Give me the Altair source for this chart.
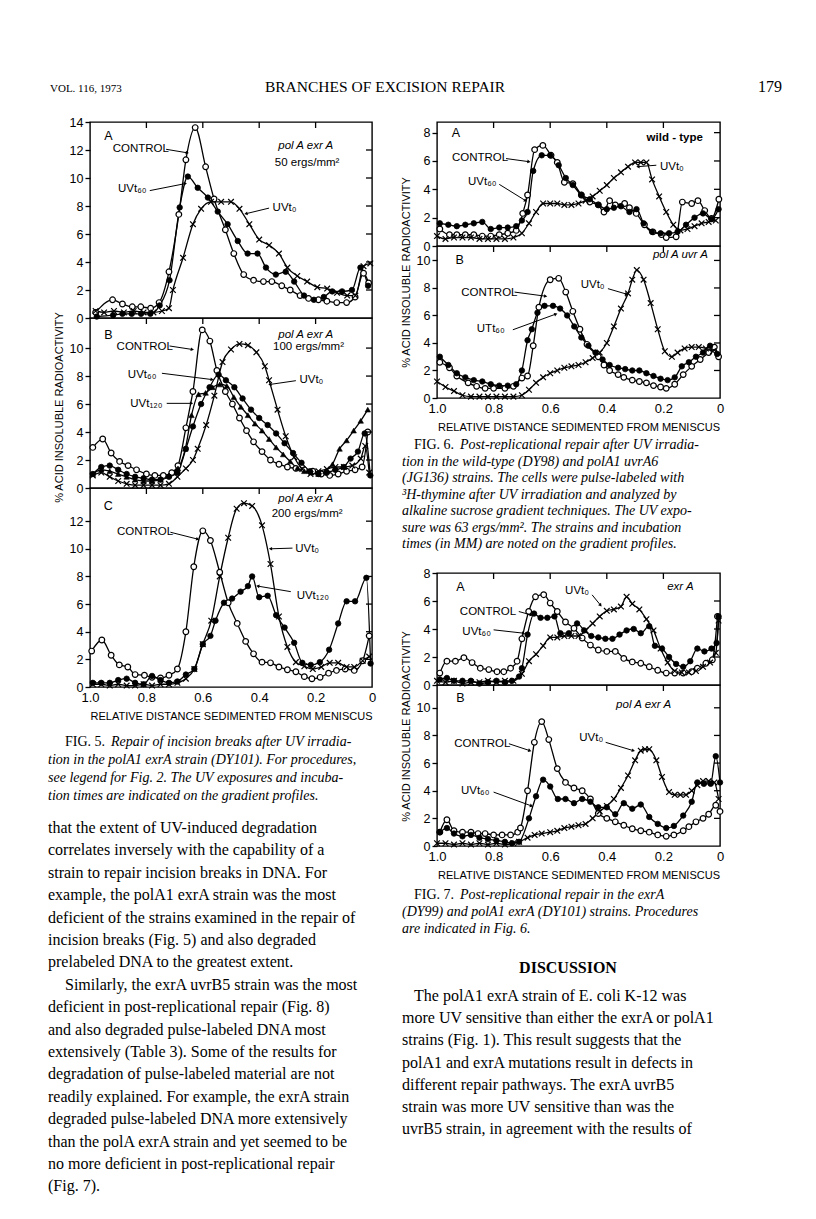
import math
import altair as alt
import pandas as pd

SANS = "Liberation Sans, DejaVu Sans, Arial, sans-serif"
SERIF = "Liberation Serif, DejaVu Serif, Times New Roman, serif"

# ---------------------------------------------------------------- data
# Fig. 5A  (pol A exrA, 50 ergs/mm2)
F5A_CTRL_X = [0.98, 0.92, 0.885, 0.85, 0.82, 0.785, 0.755, 0.72, 0.685, 0.66, 0.627, 0.59, 0.56, 0.52, 0.49,
              0.455, 0.42, 0.385, 0.355, 0.32, 0.29, 0.255, 0.225, 0.19, 0.16, 0.125, 0.09, 0.06, 0.03, 0.012]
F5A_CTRL_Y = [0.4, 1.3, 1.0, 0.8, 0.8, 0.7, 1.1, 3.3, 7.4, 11.3, 13.6, 10.8, 8.5, 6.3, 4.6,
              3.1, 2.7, 2.6, 2.6, 2.3, 2.0, 1.6, 1.4, 1.3, 1.2, 1.1, 1.1, 1.5, 3.2, 2.5]
F5A_T60_X = [0.976, 0.918, 0.885, 0.852, 0.819, 0.786, 0.753, 0.718, 0.682, 0.653, 0.618, 0.582, 0.547, 0.512, 0.476,
             0.441, 0.406, 0.376, 0.341, 0.306, 0.276, 0.241, 0.206, 0.171, 0.141, 0.106, 0.071, 0.041, 0.014]
F5A_T60_Y = [0.1, 0.2, 0.3, 0.3, 0.3, 0.3, 0.9, 2.7, 7.9, 10.1, 9.3, 8.6, 7.6, 6.7, 5.5,
             4.6, 4.6, 3.6, 3.1, 3.3, 2.6, 1.6, 1.3, 1.5, 1.9, 1.9, 2.0, 3.6, 2.3]
F5A_T0_X = [0.98, 0.95, 0.915, 0.88, 0.845, 0.81, 0.775, 0.745, 0.72, 0.706, 0.67, 0.635, 0.606, 0.571, 0.535, 0.5,
            0.47, 0.435, 0.4, 0.365, 0.33, 0.3, 0.265, 0.23, 0.194, 0.159, 0.124, 0.088, 0.059, 0.03, 0.006]
F5A_T0_Y = [0.5, 0.4, 0.5, 0.4, 0.5, 0.4, 0.4, 0.5, 0.7, 2.0, 4.3, 6.7, 7.8, 8.3, 8.3, 8.3,
            7.8, 6.7, 5.6, 5.2, 4.6, 3.6, 3.0, 2.6, 2.2, 2.1, 1.8, 1.6, 1.6, 3.7, 3.9]

# Fig. 5B  (100 ergs/mm2)
F5B_CTRL_X = [0.99, 0.955, 0.925, 0.895, 0.865, 0.835, 0.8, 0.77, 0.74, 0.71, 0.688, 0.66, 0.635, 0.602, 0.575,
              0.55, 0.52, 0.495, 0.47, 0.445, 0.42, 0.39, 0.36, 0.33, 0.3, 0.27, 0.24, 0.21, 0.18, 0.15,
              0.12, 0.09, 0.06, 0.035, 0.015]
F5B_CTRL_Y = [2.9, 3.5, 2.5, 1.9, 1.6, 1.3, 1.0, 0.9, 0.9, 1.1, 1.6, 4.3, 6.9, 11.3, 10.5,
              8.4, 6.9, 6.0, 5.0, 4.1, 3.3, 2.6, 2.0, 1.7, 1.5, 1.4, 1.3, 1.2, 1.0, 0.9,
              1.0, 1.2, 1.3, 1.5, 4.0]
F5B_T60_X = [0.99, 0.96, 0.93, 0.9, 0.87, 0.84, 0.81, 0.78, 0.75, 0.72, 0.69, 0.66, 0.635, 0.606, 0.576,
             0.544, 0.518, 0.488, 0.459, 0.429, 0.4, 0.37, 0.34, 0.31, 0.28, 0.25, 0.22, 0.19, 0.16, 0.13,
             0.1, 0.076, 0.05, 0.026, 0.006]
F5B_T60_Y = [1.0, 1.5, 1.6, 1.3, 1.0, 0.8, 0.7, 0.6, 0.6, 0.8, 1.1, 2.8, 4.4, 6.0, 7.2,
             8.1, 7.7, 7.2, 6.4, 5.6, 5.0, 4.5, 3.9, 3.2, 2.5, 1.8, 1.2, 1.0, 1.1, 1.3,
             1.5, 2.1, 2.6, 3.9, 0.9]
F5B_T120_X = [0.99, 0.96, 0.93, 0.9, 0.87, 0.84, 0.81, 0.78, 0.75, 0.72, 0.688, 0.662, 0.64, 0.615, 0.59,
              0.565, 0.54, 0.515, 0.49, 0.465, 0.44, 0.415, 0.39, 0.365, 0.34, 0.315, 0.29, 0.265, 0.24, 0.215,
              0.19, 0.165, 0.14, 0.115, 0.09, 0.065, 0.04, 0.015]
F5B_T120_Y = [1.0, 1.3, 1.2, 1.0, 0.8, 0.6, 0.5, 0.5, 0.6, 0.9, 1.4, 2.8, 5.2, 6.7, 6.8,
              7.2, 7.4, 7.3, 6.5, 5.8, 5.2, 4.6, 4.1, 3.5, 2.9, 2.4, 1.9, 1.4, 1.2, 1.1,
              1.0, 1.2, 1.7, 2.8, 3.4, 4.1, 4.8, 5.6]
F5B_T0_X = [0.99, 0.96, 0.93, 0.9, 0.87, 0.84, 0.81, 0.78, 0.75, 0.72, 0.69, 0.66, 0.635, 0.618, 0.588,
            0.559, 0.53, 0.5, 0.47, 0.44, 0.41, 0.38, 0.365, 0.335, 0.306, 0.276, 0.247, 0.218, 0.19, 0.16,
            0.13, 0.1, 0.07, 0.04, 0.024, 0.01]
F5B_T0_Y = [0.9, 1.1, 0.8, 0.5, 0.3, 0.2, 0.2, 0.2, 0.2, 0.3, 0.8, 1.4, 2.0, 2.8, 4.5,
            6.6, 9.0, 9.9, 10.3, 10.2, 9.7, 8.7, 7.7, 5.6, 3.7, 2.2, 1.35, 1.0, 1.2, 1.35,
            1.5, 1.5, 1.6, 2.1, 3.0, 1.1]

# Fig. 5C  (200 ergs/mm2)
F5C_CTRL_X = [0.994, 0.958, 0.925, 0.896, 0.866, 0.84, 0.807, 0.78, 0.75, 0.72, 0.69, 0.66, 0.632, 0.6, 0.573,
              0.54, 0.51, 0.478, 0.448, 0.42, 0.39, 0.36, 0.33, 0.3, 0.27, 0.24, 0.213, 0.184, 0.154, 0.126,
              0.095, 0.063, 0.033, 0.01]
F5C_CTRL_Y = [2.6, 3.4, 2.3, 1.6, 1.45, 0.9, 0.85, 0.7, 0.65, 0.85, 1.3, 4.0, 8.7, 11.3, 10.6,
              8.3, 6.1, 4.6, 3.3, 2.4, 1.8, 1.75, 1.45, 1.25, 1.1, 0.75, 0.6, 0.7, 1.0, 1.2,
              1.3, 1.2, 1.9, 3.7]
F5C_T120_X = [0.99, 0.96, 0.93, 0.9, 0.87, 0.84, 0.81, 0.78, 0.75, 0.72, 0.69, 0.66, 0.63, 0.6, 0.573,
              0.555, 0.525, 0.496, 0.466, 0.44, 0.425, 0.4, 0.37, 0.34, 0.31, 0.276, 0.247, 0.217, 0.185, 0.152,
              0.12, 0.09, 0.06, 0.02, 0.005]
F5C_T120_Y = [0.3, 0.3, 0.3, 0.5, 0.6, 0.3, 0.2, 0.8, 0.5, 0.3, 0.4, 0.9, 1.3, 3.1, 3.7,
              4.8, 6.1, 6.4, 6.9, 7.3, 8.0, 6.5, 6.6, 5.2, 4.3, 3.2, 1.75, 1.6, 1.8, 2.7,
              4.6, 6.2, 6.2, 7.9, 1.7]
F5C_T0_X = [0.99, 0.96, 0.93, 0.9, 0.87, 0.84, 0.81, 0.78, 0.75, 0.72, 0.69, 0.66, 0.63, 0.6, 0.57,
            0.54, 0.51, 0.48, 0.454, 0.425, 0.39, 0.36, 0.33, 0.3, 0.27, 0.24, 0.21, 0.18, 0.15, 0.12,
            0.09, 0.063, 0.033, 0.01]
F5C_T0_Y = [0.2, 0.2, 0.1, 0.2, 0.1, 0.1, 0.2, 0.1, 0.2, 0.2, 0.3, 0.6, 1.3, 3.1, 4.8,
            8.0, 10.8, 12.9, 13.3, 13.1, 11.7, 8.9, 5.1, 2.9, 1.8, 1.5, 1.3, 1.45, 1.75, 1.75,
            1.45, 1.45, 1.9, 2.2]

# Fig. 6A  (wild-type)
F6A_CTRL_X = [0.99, 0.956, 0.93, 0.9, 0.87, 0.84, 0.81, 0.78, 0.75, 0.72, 0.697, 0.68, 0.655, 0.626, 0.597,
              0.575, 0.55, 0.52, 0.49, 0.46, 0.43, 0.41, 0.39, 0.37, 0.337, 0.32, 0.296, 0.267, 0.237, 0.207,
              0.19, 0.155, 0.133, 0.1, 0.078, 0.054, 0.03, 0.004]
F6A_CTRL_Y = [1.2, 0.8, 0.8, 0.8, 0.8, 0.7, 0.7, 0.8, 0.9, 1.1, 2.3, 3.6, 6.8, 7.1, 6.4,
              5.9, 4.5, 4.4, 3.6, 3.1, 2.9, 2.4, 3.2, 2.9, 3.0, 2.7, 2.3, 1.5, 1.0, 0.8,
              0.6, 0.65, 3.1, 3.0, 3.2, 2.5, 1.95, 3.3]
F6A_T60_X = [0.99, 0.96, 0.93, 0.9, 0.87, 0.84, 0.81, 0.78, 0.75, 0.72, 0.70, 0.68, 0.66, 0.63, 0.6,
             0.57, 0.545, 0.52, 0.49, 0.46, 0.43, 0.40, 0.375, 0.35, 0.32, 0.295, 0.27, 0.24, 0.21, 0.18,
             0.15, 0.12, 0.09, 0.06, 0.03, 0.005]
F6A_T60_Y = [1.6, 1.5, 1.4, 1.5, 1.6, 1.7, 1.2, 1.3, 1.3, 1.4, 1.8, 2.4, 5.3, 6.4, 6.4,
             5.7, 4.8, 4.3, 3.6, 3.3, 2.9, 2.6, 2.7, 2.8, 2.4, 2.6, 1.6, 1.0, 0.9, 0.9,
             1.0, 1.5, 2.0, 2.3, 1.9, 2.6]
F6A_T0_X = [1.0, 0.97, 0.94, 0.91, 0.88, 0.85, 0.82, 0.79, 0.76, 0.73, 0.70, 0.675, 0.65, 0.625, 0.6,
            0.575, 0.55, 0.525, 0.5, 0.475, 0.45, 0.425, 0.4, 0.375, 0.35, 0.325, 0.3, 0.28, 0.26, 0.24,
            0.215, 0.19, 0.165, 0.14, 0.115, 0.09, 0.065, 0.04, 0.015]
F6A_T0_Y = [0.7, 0.5, 0.6, 0.6, 0.6, 0.5, 0.5, 0.5, 0.5, 0.6, 0.9, 1.6, 2.4, 3.0, 3.0,
            3.0, 2.9, 2.9, 3.0, 3.2, 3.5, 3.9, 4.3, 4.8, 5.2, 5.6, 5.9, 5.9, 5.9, 4.7,
            3.5, 2.4, 1.5, 1.1, 1.2, 1.4, 1.6, 1.7, 1.8]

# Fig. 6B  (pol A uvrA)
F6B_CTRL_X = [0.99, 0.956, 0.93, 0.89, 0.86, 0.83, 0.8, 0.76, 0.73, 0.7, 0.68, 0.66, 0.64, 0.6, 0.57,
              0.545, 0.52, 0.495, 0.47, 0.43, 0.41, 0.39, 0.36, 0.34, 0.31, 0.285, 0.26, 0.235, 0.21, 0.19,
              0.16, 0.13, 0.1, 0.07, 0.04, 0.02, 0.005]
F6B_CTRL_Y = [2.6, 2.2, 1.6, 1.1, 0.85, 0.7, 0.7, 0.7, 0.85, 1.45, 1.6, 3.8, 6.6, 8.6, 8.7,
              7.7, 6.3, 5.0, 3.9, 3.0, 2.4, 2.0, 1.7, 1.5, 1.3, 1.2, 1.1, 0.9, 0.8, 0.7,
              1.0, 1.7, 2.3, 2.8, 3.3, 3.7, 3.0]
F6B_T60_X = [0.99, 0.96, 0.93, 0.9, 0.87, 0.84, 0.81, 0.78, 0.75, 0.72, 0.70, 0.68, 0.665, 0.645, 0.62,
             0.59, 0.565, 0.54, 0.515, 0.49, 0.465, 0.44, 0.415, 0.39, 0.36, 0.335, 0.31, 0.285, 0.26, 0.235,
             0.21, 0.185, 0.16, 0.135, 0.11, 0.085, 0.06, 0.035, 0.01]
F6B_T60_Y = [3.0, 2.4, 1.8, 1.5, 1.3, 1.2, 1.0, 0.9, 0.9, 1.0, 2.0, 4.2, 5.0, 6.2, 6.7,
             6.7, 6.5, 6.0, 5.2, 4.4, 3.8, 3.3, 2.8, 2.4, 2.2, 2.1, 2.0, 2.0, 1.8, 1.6,
             1.4, 1.3, 1.5, 2.3, 2.6, 3.0, 3.3, 3.8, 3.2]
F6B_T0_X = [1.0, 0.97, 0.94, 0.91, 0.88, 0.85, 0.82, 0.79, 0.76, 0.73, 0.70, 0.675, 0.65, 0.625, 0.6,
            0.575, 0.55, 0.525, 0.5, 0.475, 0.45, 0.425, 0.4, 0.375, 0.35, 0.325, 0.31, 0.294, 0.27, 0.245,
            0.22, 0.195, 0.17, 0.15, 0.125, 0.1, 0.075, 0.05, 0.025]
F6B_T0_Y = [1.2, 0.8, 0.5, 0.2, 0.1, 0.1, 0.1, 0.1, 0.1, 0.1, 0.2, 0.6, 1.1, 1.5, 1.8,
            2.0, 2.2, 2.3, 2.4, 2.6, 2.9, 3.3, 4.0, 5.2, 6.5, 7.6, 8.6, 9.3, 8.6, 6.9,
            5.0, 3.4, 3.0, 3.3, 3.6, 3.7, 3.7, 3.6, 3.4]

# Fig. 7A  (exrA)
F7A_CTRL_X = [0.99, 0.965, 0.935, 0.905, 0.876, 0.847, 0.817, 0.788, 0.764, 0.74, 0.717, 0.7, 0.676, 0.652, 0.623,
              0.6, 0.575, 0.546, 0.516, 0.487, 0.458, 0.43, 0.4, 0.37, 0.34, 0.31, 0.28, 0.25, 0.22, 0.19,
              0.16, 0.13, 0.1, 0.08, 0.05, 0.027, 0.009]
F7A_CTRL_Y = [0.85, 1.7, 1.7, 1.95, 1.6, 1.2, 1.1, 0.95, 0.95, 1.2, 1.7, 3.3, 5.25, 6.3, 6.45,
              5.85, 5.25, 4.5, 4.05, 3.35, 2.85, 2.5, 2.4, 2.4, 1.9, 1.65, 1.55, 1.3, 1.05, 0.85,
              0.85, 0.85, 0.95, 1.2, 1.55, 1.8, 4.9]
F7A_T60_X = [0.99, 0.965, 0.94, 0.91, 0.88, 0.85, 0.82, 0.79, 0.76, 0.735, 0.71, 0.70, 0.68, 0.657, 0.634,
             0.61, 0.585, 0.564, 0.534, 0.505, 0.48, 0.455, 0.43, 0.405, 0.38, 0.355, 0.33, 0.305, 0.28, 0.25,
             0.23, 0.205, 0.18, 0.155, 0.13, 0.105, 0.08, 0.055, 0.03, 0.012, 0.005]
F7A_T60_Y = [0.4, 0.5, 0.3, 0.3, 0.3, 0.1, 0.2, 0.3, 0.2, 0.3, 0.6, 1.2, 3.6, 5.1, 4.8,
             4.8, 4.9, 3.7, 3.7, 4.4, 3.9, 3.5, 3.4, 3.3, 3.3, 3.6, 3.9, 4.0, 3.7, 4.2,
             2.8, 2.6, 2.0, 1.5, 1.3, 1.7, 2.6, 2.4, 2.6, 3.0, 4.9]
F7A_T0_X = [1.0, 0.97, 0.94, 0.91, 0.88, 0.85, 0.82, 0.79, 0.76, 0.73, 0.70, 0.675, 0.65, 0.625, 0.6,
            0.575, 0.55, 0.525, 0.5, 0.475, 0.45, 0.425, 0.4, 0.375, 0.35, 0.33, 0.31, 0.285, 0.26, 0.235,
            0.21, 0.185, 0.16, 0.135, 0.11, 0.085, 0.06, 0.035, 0.015, 0.005]
F7A_T0_Y = [0.3, 0.2, 0.3, 0.1, 0.2, 0.2, 0.3, 0.2, 0.3, 0.3, 0.8, 1.7, 2.2, 2.8, 3.4,
            3.4, 3.5, 3.5, 3.5, 3.9, 4.4, 4.9, 5.3, 5.4, 5.6, 6.3, 5.8, 5.4, 4.7, 3.9,
            2.6, 1.6, 1.0, 0.9, 0.9, 1.0, 1.3, 1.6, 2.3, 4.6]

# Fig. 7B  (pol A exrA)
F7B_CTRL_X = [0.99, 0.965, 0.94, 0.91, 0.88, 0.855, 0.83, 0.8, 0.77, 0.74, 0.715, 0.705, 0.68, 0.656, 0.63,
              0.605, 0.575, 0.546, 0.516, 0.487, 0.458, 0.43, 0.4, 0.37, 0.34, 0.31, 0.28, 0.25, 0.22, 0.19,
              0.163, 0.13, 0.11, 0.085, 0.06, 0.04, 0.015, 0.0]
F7B_CTRL_Y = [1.0, 1.9, 1.1, 1.0, 1.0, 0.9, 0.9, 0.8, 0.8, 0.8, 1.0, 1.3, 4.0, 7.5, 9.0,
              7.7, 5.6, 4.6, 4.2, 4.0, 3.4, 2.35, 2.0, 1.75, 1.5, 1.25, 1.1, 1.0, 0.8, 0.7,
              0.8, 1.1, 1.4, 1.75, 2.0, 2.3, 2.95, 2.5]
F7B_T60_X = [0.99, 0.965, 0.94, 0.91, 0.88, 0.85, 0.82, 0.79, 0.76, 0.735, 0.71, 0.675, 0.65, 0.625, 0.6,
             0.573, 0.546, 0.516, 0.487, 0.458, 0.43, 0.4, 0.37, 0.34, 0.31, 0.28, 0.25, 0.22, 0.19, 0.163,
             0.13, 0.1, 0.08, 0.057, 0.033, 0.015, 0.0]
F7B_T60_Y = [1.0, 1.3, 0.9, 0.7, 0.8, 0.6, 0.5, 0.4, 0.3, 0.2, 0.3, 2.0, 3.6, 4.8, 4.3,
             3.4, 3.4, 3.1, 3.4, 3.2, 2.8, 2.8, 2.3, 3.1, 2.7, 3.0, 2.1, 1.6, 1.3, 1.45,
             2.2, 3.2, 4.6, 4.5, 4.5, 6.5, 4.6]
F7B_T0_X = [1.0, 0.97, 0.94, 0.91, 0.88, 0.85, 0.82, 0.79, 0.76, 0.73, 0.71, 0.68, 0.655, 0.63, 0.6,
            0.575, 0.55, 0.525, 0.5, 0.475, 0.45, 0.425, 0.4, 0.375, 0.35, 0.325, 0.3, 0.28, 0.265, 0.25,
            0.225, 0.205, 0.18, 0.16, 0.14, 0.12, 0.1, 0.08, 0.06, 0.04, 0.02, 0.005]
F7B_T0_Y = [0.2, 0.2, 0.1, 0.2, 0.1, 0.2, 0.1, 0.2, 0.1, 0.2, 0.3, 0.6, 0.8, 0.9, 1.0,
            1.1, 1.3, 1.4, 1.5, 1.6, 2.0, 2.5, 2.9, 3.4, 4.2, 5.1, 6.2, 6.9, 7.0, 7.0,
            6.2, 5.0, 3.9, 3.7, 3.7, 3.7, 4.0, 4.4, 4.7, 4.7, 4.6, 3.4]

X_TICKS = [1.0, 0.8, 0.6, 0.4, 0.2, 0.0]
Y_TICKS_14 = [0, 2, 4, 6, 8, 10, 12, 14]
Y_TICKS_12 = [0, 2, 4, 6, 8, 10, 12]
Y_TICKS_10 = [0, 2, 4, 6, 8, 10]
Y_TICKS_8 = [0, 2, 4, 6, 8]

# ---------------------------------------------------------------- page text
HEADER_LEFT = "VOL. 116, 1973"
HEADER_MID = "BRANCHES OF EXCISION REPAIR"
HEADER_RIGHT = "179"
X_TITLE = "RELATIVE DISTANCE SEDIMENTED FROM MENISCUS"
Y_TITLE = "% ACID INSOLUBLE RADIOACTIVITY"

CAP5_LEAD = "FIG. 5."
CAP5 = ["Repair of incision breaks after UV irradia-",
        "tion in the polA1 exrA strain (DY101). For procedures,",
        "see legend for Fig. 2. The UV exposures and incuba-",
        "tion times are indicated on the gradient profiles."]
BODY_LEFT = ["that the extent of UV-induced degradation",
             "correlates inversely with the capability of a",
             "strain to repair incision breaks in DNA. For",
             "example, the polA1 exrA strain was the most",
             "deficient of the strains examined in the repair of",
             "incision breaks (Fig. 5) and also degraded",
             "prelabeled DNA to the greatest extent.",
             "Similarly, the exrA uvrB5 strain was the most",
             "deficient in post-replicational repair (Fig. 8)",
             "and also degraded pulse-labeled DNA most",
             "extensively (Table 3). Some of the results for",
             "degradation of pulse-labeled material are not",
             "readily explained. For example, the exrA strain",
             "degraded pulse-labeled DNA more extensively",
             "than the polA exrA strain and yet seemed to be",
             "no more deficient in post-replicational repair",
             "(Fig. 7)."]
CAP6_LEAD = "FIG. 6."
CAP6 = ["Post-replicational repair after UV irradia-",
        "tion in the wild-type (DY98) and polA1 uvrA6",
        "(JG136) strains. The cells were pulse-labeled with",
        "³H-thymine after UV irradiation and analyzed by",
        "alkaline sucrose gradient techniques. The UV expo-",
        "sure was 63 ergs/mm². The strains and incubation",
        "times (in MM) are noted on the gradient profiles."]
CAP7_LEAD = "FIG. 7."
CAP7 = ["Post-replicational repair in the exrA",
        "(DY99) and polA1 exrA (DY101) strains. Procedures",
        "are indicated in Fig. 6."]
DISC_HEAD = "DISCUSSION"
DISC = ["The polA1 exrA strain of E. coli K-12 was",
        "more UV sensitive than either the exrA or polA1",
        "strains (Fig. 1). This result suggests that the",
        "polA1 and exrA mutations result in defects in",
        "different repair pathways. The exrA uvrB5",
        "strain was more UV sensitive than was the",
        "uvrB5 strain, in agreement with the results of"]

# ---------------------------------------------------------------- helpers
MARKER = {
    "open": dict(shape="circle", filled=True, fill="white", stroke="black", strokeWidth=1.2, size=32, opacity=1),
    "filled": dict(shape="circle", filled=True, fill="black", stroke="black", strokeWidth=0.8, size=30, opacity=1),
    "cross": dict(shape="M-1,-1L1,1M-1,1L1,-1", filled=False, stroke="black", strokeWidth=1.2, size=32, opacity=1),
    "tri": dict(shape="triangle-up", filled=True, fill="black", stroke="black", strokeWidth=0.6, size=30, opacity=1),
}
ANN = {
    "lab": dict(font=SANS, fontSize=11.5),
    "let": dict(font=SANS, fontSize=12.5),
    "it": dict(font=SANS, fontSize=11.5, fontStyle="italic"),
    "bold": dict(font=SANS, fontSize=11.5, fontWeight="bold"),
}
PANEL_VIEW = alt.ViewBackground(stroke="black", strokeWidth=1.4)


def panel(curves, ymax, yvals, w, h, texts, arrows, bottom=False, ytitle=None, title_y=None):
    xsc = alt.Scale(domain=[0, 1], reverse=True, nice=False, zero=False)
    ysc = alt.Scale(domain=[0, ymax], nice=False, zero=False)
    if bottom:
        xax = alt.Axis(values=X_TICKS,
                       labelExpr="datum.value == 0 ? '0' : format(datum.value, '.1f')",
                       title=X_TITLE, grid=False, domain=False, ticks=False, labelPadding=4,
                       labelFlush=False, labelFontSize=13, titleFontSize=11, titlePadding=6,
                       titleFontWeight="normal")
    else:
        xax = None
    ykw = dict(values=yvals, format="d", grid=False, domain=False, tickSize=5, tickWidth=1.3,
               labelPadding=2, labelFontSize=12.5)
    if ytitle:
        ykw.update(title=ytitle, titleFontSize=11, titleFontWeight="normal", titlePadding=5)
        if title_y is not None:
            ykw["titleY"] = title_y
    else:
        ykw["title"] = None
    yax = alt.Axis(**ykw)
    X = alt.X("x:Q", scale=xsc, axis=xax)
    Y = alt.Y("y:Q", scale=ysc, axis=yax)

    layers = []
    for xs, ys, kind in curves:
        df = pd.DataFrame({"x": xs, "y": ys})
        layers.append(alt.Chart(df).mark_line(color="black", strokeWidth=1.3, interpolate="monotone")
                      .encode(x=X, y=Y))
    for xs, ys, kind in curves:
        df = pd.DataFrame({"x": xs, "y": ys})
        layers.append(alt.Chart(df).mark_point(**MARKER[kind]).encode(x=X, y=Y))

    # inward ticks on top and right border
    tdf = pd.DataFrame({"x": [0.2, 0.4, 0.6, 0.8]})
    layers.append(alt.Chart(tdf).mark_rule(color="black", strokeWidth=1.3)
                  .encode(x=X, y=alt.value(0), y2=alt.value(6)))
    rdf = pd.DataFrame({"y": [v for v in yvals if 0 < v < ymax - 0.4]})
    layers.append(alt.Chart(rdf).mark_rule(color="black", strokeWidth=1.3)
                  .encode(y=Y, x=alt.value(w - 6), x2=alt.value(w)))

    # leader arrows
    if arrows:
        adf = pd.DataFrame(arrows, columns=["x", "y", "x2", "y2"])
        layers.append(alt.Chart(adf).mark_rule(color="black", strokeWidth=1)
                      .encode(x=X, y=Y, x2="x2:Q", y2="y2:Q"))
        angs = []
        for x1, y1, x2, y2 in arrows:
            dxp = -(x2 - x1) * w
            dyp = -(y2 - y1) * h / ymax
            angs.append((math.degrees(math.atan2(dxp, -dyp)) + 360) % 360)
        hdf = pd.DataFrame({"x": [a[2] for a in arrows], "y": [a[3] for a in arrows], "ang": angs})
        layers.append(alt.Chart(hdf).mark_point(shape="triangle-up", filled=True, color="black",
                                                size=14, opacity=1)
                      .encode(x=X, y=Y, angle=alt.Angle("ang:Q", scale=None)))

    # labels
    for style in ANN:
        rows = [t for t in texts if t[3] == style]
        if not rows:
            continue
        df = pd.DataFrame({"t": [r[0] for r in rows], "x": [r[1] for r in rows], "y": [r[2] for r in rows]})
        layers.append(alt.Chart(df).mark_text(color="black", align="center", baseline="middle", **ANN[style])
                      .encode(x=X, y=Y, text="t:N"))
    return alt.layer(*layers).properties(width=w, height=h, view=PANEL_VIEW)


def text_chart(w, h, blocks):
    layers = []
    for rows, style in blocks:
        df = pd.DataFrame({"px": [r[0] for r in rows], "py": [r[1] for r in rows], "t": [r[2] for r in rows]})
        layers.append(alt.Chart(df).mark_text(color="black", baseline="alphabetic", **style)
                      .encode(x=alt.X("px:Q", scale=None, axis=None),
                              y=alt.Y("py:Q", scale=None, axis=None),
                              text="t:N"))
    return alt.layer(*layers).properties(width=w, height=h)


def caption_blocks(lead, lines, x0, y0, step, indent, lead_w, size):
    roman = [(x0 + indent, y0, lead)]
    ital = [(x0 + indent + lead_w, y0, lines[0])]
    for i, s in enumerate(lines[1:], start=1):
        ital.append((x0, y0 + i * step, s))
    return [(roman, dict(font=SERIF, fontSize=size, align="left")),
            (ital, dict(font=SERIF, fontSize=size, fontStyle="italic", align="left"))]


# ---------------------------------------------------------------- panels
WL, WR = 282, 283

f5a = panel([(F5A_CTRL_X, F5A_CTRL_Y, "open"), (F5A_T60_X, F5A_T60_Y, "filled"), (F5A_T0_X, F5A_T0_Y, "cross")],
            14.0, Y_TICKS_14, WL, 196,
            [("A", 0.935, 13.0, "let"), ("CONTROL", 0.82, 12.05, "lab"), ("UVt₆₀", 0.85, 9.2, "lab"),
             ("UVt₀", 0.31, 7.85, "lab"), ("pol A  exr A", 0.235, 12.3, "it"), ("50 ergs/mm²", 0.23, 11.1, "lab")],
            [(0.73, 12.05, 0.655, 11.8), (0.788, 9.1, 0.662, 9.6), (0.365, 7.85, 0.447, 7.45)])

f5b = panel([(F5B_CTRL_X, F5B_CTRL_Y, "open"), (F5B_T60_X, F5B_T60_Y, "filled"),
             (F5B_T120_X, F5B_T120_Y, "tri"), (F5B_T0_X, F5B_T0_Y, "cross")],
            12.15, Y_TICKS_10, WL, 170,
            [("B", 0.935, 10.9, "let"), ("CONTROL", 0.806, 10.1, "lab"), ("UVt₆₀", 0.815, 8.1, "lab"),
             ("UVt₁₂₀", 0.80, 6.0, "lab"), ("UVt₀", 0.215, 7.7, "lab"),
             ("pol A  exr A", 0.235, 10.9, "it"), ("100 ergs/mm²", 0.225, 10.1, "lab")],
            [(0.718, 10.15, 0.637, 9.9), (0.745, 8.2, 0.567, 7.75), (0.728, 6.05, 0.64, 6.05),
             (0.27, 7.67, 0.362, 7.4)],
            ytitle=Y_TITLE, title_y=89)

f5c = panel([(F5C_CTRL_X, F5C_CTRL_Y, "open"), (F5C_T120_X, F5C_T120_Y, "filled"), (F5C_T0_X, F5C_T0_Y, "cross")],
            14.4, Y_TICKS_12, WL, 199,
            [("C", 0.935, 13.1, "let"), ("CONTROL", 0.805, 11.25, "lab"), ("UVt₀", 0.23, 10.0, "lab"),
             ("UVt₁₂₀", 0.21, 6.6, "lab"), ("pol A  exr A", 0.235, 13.6, "it"), ("200 ergs/mm²", 0.23, 12.5, "lab")],
            [(0.715, 11.2, 0.618, 10.7), (0.282, 10.05, 0.36, 10.0), (0.288, 6.9, 0.405, 7.3)],
            bottom=True)

f6a = panel([(F6A_CTRL_X, F6A_CTRL_Y, "open"), (F6A_T60_X, F6A_T60_Y, "filled"), (F6A_T0_X, F6A_T0_Y, "cross")],
            8.75, Y_TICKS_8, WR, 124,
            [("A", 0.933, 8.0, "let"), ("wild - type", 0.16, 7.6, "bold"), ("CONTROL", 0.848, 6.2, "lab"),
             ("UVt₆₀", 0.84, 4.5, "lab"), ("UVt₀", 0.17, 5.6, "lab")],
            [(0.756, 6.17, 0.675, 5.95), (0.78, 4.35, 0.687, 3.2), (0.225, 5.7, 0.29, 5.6)])

f6b = panel([(F6B_CTRL_X, F6B_CTRL_Y, "open"), (F6B_T60_X, F6B_T60_Y, "filled"), (F6B_T0_X, F6B_T0_Y, "cross")],
            11.05, Y_TICKS_10, WR, 152,
            [("B", 0.92, 10.05, "let"), ("pol A uvr A", 0.14, 10.4, "it"), ("CONTROL", 0.815, 7.6, "lab"),
             ("UTt₆₀", 0.81, 5.0, "lab"), ("UVt₀", 0.45, 8.2, "lab")],
            [(0.726, 7.7, 0.616, 7.4), (0.732, 4.96, 0.58, 6.1), (0.396, 7.95, 0.33, 7.55)],
            bottom=True, ytitle=Y_TITLE, title_y=26)

f7a = panel([(F7A_CTRL_X, F7A_CTRL_Y, "open"), (F7A_T60_X, F7A_T60_Y, "filled"), (F7A_T0_X, F7A_T0_Y, "cross")],
            8.0, Y_TICKS_8, WR, 112,
            [("A", 0.917, 7.0, "let"), ("exr A", 0.14, 7.0, "it"), ("UVt₀", 0.505, 6.7, "lab"),
             ("CONTROL", 0.82, 5.25, "lab"), ("UVt₆₀", 0.86, 3.8, "lab")],
            [(0.452, 6.44, 0.422, 5.7), (0.711, 5.25, 0.667, 5.0), (0.8, 3.94, 0.694, 3.7)])

f7b = panel([(F7B_CTRL_X, F7B_CTRL_Y, "open"), (F7B_T60_X, F7B_T60_Y, "filled"), (F7B_T0_X, F7B_T0_Y, "cross")],
            11.65, Y_TICKS_10, WR, 161,
            [("B", 0.917, 10.7, "let"), ("pol A  exr A", 0.27, 10.2, "it"), ("CONTROL", 0.84, 7.4, "lab"),
             ("UVt₆₀", 0.865, 4.0, "lab"), ("UVt₀", 0.455, 7.8, "lab")],
            [(0.746, 7.4, 0.672, 6.9), (0.8, 3.9, 0.666, 2.9), (0.404, 7.5, 0.306, 6.9)],
            bottom=True, ytitle=Y_TITLE, title_y=41)

# ---------------------------------------------------------------- text blocks
BODY_STYLE = dict(font=SERIF, fontSize=16, align="left")

left_blocks = caption_blocks(CAP5_LEAD, CAP5, -42, 59, 18, 17, 46, 14)
body_rows = []
for i, s in enumerate(BODY_LEFT):
    body_rows.append((-42 + (17 if i == 7 else 0), 146 + i * 22.4, s))
left_blocks.append((body_rows, BODY_STYLE))
text5 = text_chart(WL, 525, left_blocks)

text6 = text_chart(WR, 175, caption_blocks(CAP6_LEAD, CAP6, -35, 51, 16.5, 12, 46, 14))

r_blocks = caption_blocks(CAP7_LEAD, CAP7, -35, 53, 17, 12, 46, 14)
r_blocks.append(([(131, 127, DISC_HEAD)], dict(font=SERIF, fontSize=16, fontWeight="bold", align="center")))
disc_rows = [(-35 + (12 if i == 0 else 0), 155 + i * 22.2, s) for i, s in enumerate(DISC)]
r_blocks.append((disc_rows, BODY_STYLE))
text7 = text_chart(WR, 360, r_blocks)

header = text_chart(600, 107, [
    ([(-40, 84, HEADER_LEFT)], dict(font=SERIF, fontSize=11, align="left")),
    ([(295, 84, HEADER_MID)], dict(font=SERIF, fontSize=15.5, align="center")),
    ([(692, 84, HEADER_RIGHT)], dict(font=SERIF, fontSize=16, align="right")),
])

left_col = alt.vconcat(f5a, f5b, f5c, text5, spacing=0, bounds="flush")
right_col = alt.vconcat(f6a, f6b, text6, f7a, f7b, text7, spacing=0, bounds="flush")
body = alt.hconcat(left_col, right_col, spacing=22)

chart = (alt.vconcat(header, body, spacing=0)
         .properties(padding={"left": 40, "top": 0, "right": 5, "bottom": 5}, background="white")
         .configure_view(stroke=None)
         .configure_axis(labelFont=SANS, titleFont=SANS, labelColor="black", titleColor="black",
                         tickColor="black"))

chart.save("out.html", embed_options={"renderer": "svg", "actions": False})
